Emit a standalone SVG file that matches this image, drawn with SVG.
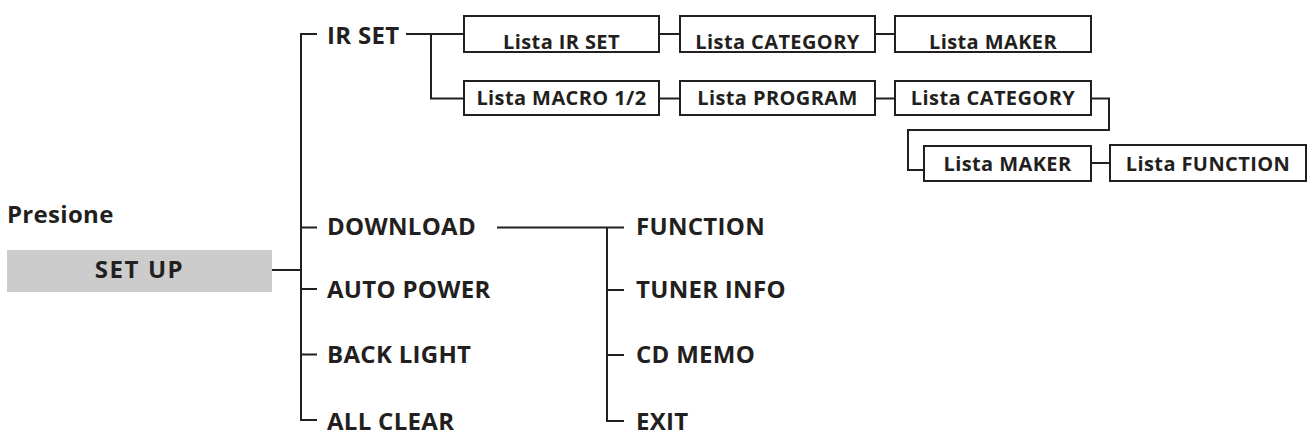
<svg xmlns="http://www.w3.org/2000/svg" width="1313" height="446" viewBox="0 0 1313 446">
  <style>
    .ln { fill: none; stroke: #231f20; stroke-width: 2; }
    .box { fill: #ffffff; stroke: #231f20; stroke-width: 2; }
    .lbl { font-family: "Open Sans", "Liberation Sans", sans-serif; font-weight: 700; font-size: 24px; letter-spacing: 0.3px; fill: #231f20; }
    .bx { font-family: "Open Sans", "Liberation Sans", sans-serif; font-weight: 700; font-size: 20px; letter-spacing: 0.4px; fill: #231f20; text-anchor: middle; }
  </style>
  <rect width="1313" height="446" fill="#ffffff"/>

  <!-- connectors -->
  <g id="connectors">
    <!-- SET UP to main trunk -->
    <path class="ln" d="M272,270 H301"/>
    <!-- main trunk with ticks -->
    <path class="ln" d="M317,34 H301 V420 H317"/>
    <path class="ln" d="M301,227.5 H317 M301,289 H317 M301,354.5 H317"/>
    <!-- IR SET branch -->
    <path class="ln" d="M406,34 H464 M431,34 V98.5 H464"/>
    <!-- list rows -->
    <path class="ln" d="M659,34 H680 M875,34 H895"/>
    <path class="ln" d="M659,98.5 H680 M875,98.5 H895"/>
    <path class="ln" d="M1091,98.5 H1109 V130 H908 V170 H924"/>
    <path class="ln" d="M1091,163 H1110"/>
    <!-- DOWNLOAD branch -->
    <path class="ln" d="M497,227.5 H624 M607,227.5 V421 H624"/>
    <path class="ln" d="M607,290 H624 M607,355 H624"/>
  </g>

  <g id="presione">
    <text class="lbl" x="7" y="223">Presione</text>
  </g>
  <g id="setup">
    <rect x="7" y="250" width="265" height="42" fill="#cccccc"/>
    <text class="lbl" x="139.5" y="278" text-anchor="middle" style="letter-spacing:1.6px">SET UP</text>
  </g>

  <g id="irset"><text class="lbl" x="327" y="43.5">IR SET</text></g>
  <g id="download"><text class="lbl" x="327" y="235">DOWNLOAD</text></g>
  <g id="autopower"><text class="lbl" x="327" y="298">AUTO POWER</text></g>
  <g id="backlight"><text class="lbl" x="327" y="363">BACK LIGHT</text></g>
  <g id="allclear"><text class="lbl" x="327" y="430">ALL CLEAR</text></g>

  <g id="function"><text class="lbl" x="636" y="235">FUNCTION</text></g>
  <g id="tunerinfo"><text class="lbl" x="636" y="298">TUNER INFO</text></g>
  <g id="cdmemo"><text class="lbl" x="636" y="363">CD MEMO</text></g>
  <g id="exit"><text class="lbl" x="636" y="430">EXIT</text></g>

  <!-- row 1 -->
  <g id="lista-irset">
    <rect class="box" x="464" y="16" width="195" height="36"/>
    <text class="bx" x="561.5" y="49">Lista IR SET</text>
  </g>
  <g id="lista-category-1">
    <rect class="box" x="680" y="16" width="195" height="36"/>
    <text class="bx" x="777.5" y="49">Lista CATEGORY</text>
  </g>
  <g id="lista-maker-1">
    <rect class="box" x="895" y="16" width="196" height="36"/>
    <text class="bx" x="993" y="49">Lista MAKER</text>
  </g>

  <!-- row 2 -->
  <g id="lista-macro">
    <rect class="box" x="464" y="81" width="195" height="34"/>
    <text class="bx" x="561.5" y="105">Lista MACRO 1/2</text>
  </g>
  <g id="lista-program">
    <rect class="box" x="680" y="81" width="195" height="34"/>
    <text class="bx" x="777.5" y="105">Lista PROGRAM</text>
  </g>
  <g id="lista-category-2">
    <rect class="box" x="895" y="81" width="196" height="34"/>
    <text class="bx" x="993" y="105">Lista CATEGORY</text>
  </g>

  <!-- row 3 -->
  <g id="lista-maker-2">
    <rect class="box" x="924" y="146" width="167" height="35"/>
    <text class="bx" x="1007.5" y="170.5">Lista MAKER</text>
  </g>
  <g id="lista-function">
    <rect class="box" x="1110" y="145" width="196" height="36"/>
    <text class="bx" x="1208" y="170.5">Lista FUNCTION</text>
  </g>
</svg>
